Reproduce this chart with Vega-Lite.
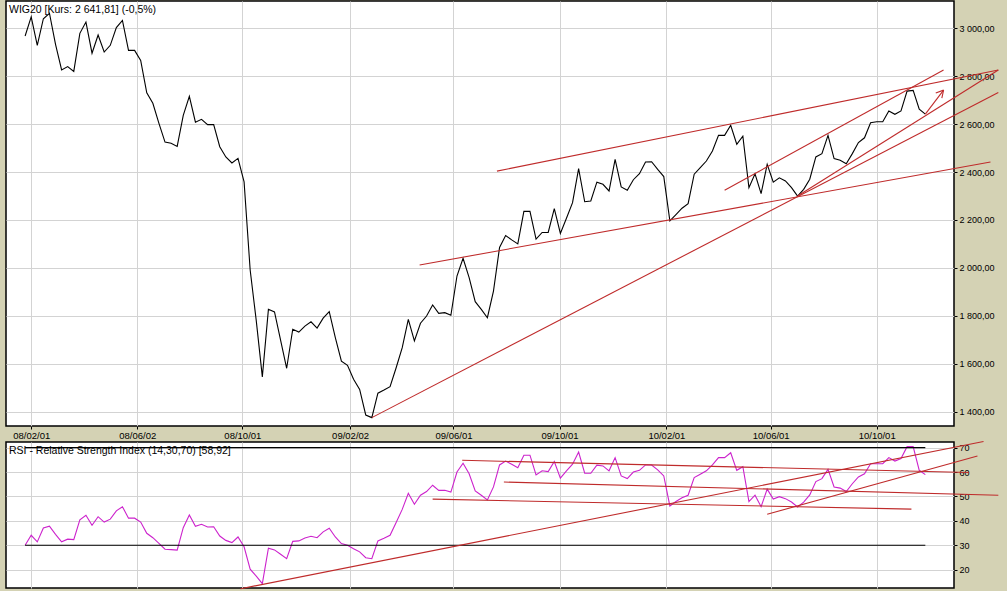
{
  "$schema": "https://vega.github.io/schema/vega-lite/v6.json",
  "background": "#d4d2b4",
  "padding": {"left": 5, "top": 0, "right": 14, "bottom": 0},
  "bounds": "flush",
  "spacing": 16,
  "config": {
    "view": {"stroke": "black", "strokeWidth": 1.5, "fill": "white"},
    "font": "Liberation Sans",
    "axis": {
      "domain": false, "grid": true, "gridColor": "#d3d3d3", "gridWidth": 1,
      "tickColor": "black", "tickSize": 3, "labelColor": "black",
      "labelFont": "Liberation Sans", "labelFontSize": 9, "labelFlush": false,
      "labelOverlap": false, "labelBound": false
    }
  },
  "datasets": {
    "px": [
      {"d":"2008-01-25","p":2968,"r":30.0},{"d":"2008-02-01","p":3048,"r":34.1},{"d":"2008-02-08","p":2929,"r":31.4},{"d":"2008-02-15","p":3040,"r":37.1},
      {"d":"2008-02-22","p":3063,"r":37.8},{"d":"2008-02-29","p":2933,"r":34.5},{"d":"2008-03-07","p":2826,"r":31.4},{"d":"2008-03-14","p":2840,"r":32.5},
      {"d":"2008-03-21","p":2820,"r":32.3},{"d":"2008-03-28","p":2979,"r":40.4},{"d":"2008-04-04","p":3026,"r":42.3},{"d":"2008-04-11","p":2896,"r":38.2},
      {"d":"2008-04-18","p":2972,"r":41.7},{"d":"2008-04-25","p":2901,"r":39.5},{"d":"2008-05-02","p":2929,"r":40.7},{"d":"2008-05-09","p":3003,"r":44.1},
      {"d":"2008-05-16","p":3033,"r":45.8},{"d":"2008-05-23","p":2908,"r":41.1},{"d":"2008-05-30","p":2908,"r":41.1},{"d":"2008-06-06","p":2866,"r":39.5},
      {"d":"2008-06-13","p":2731,"r":34.9},{"d":"2008-06-20","p":2687,"r":33.1},{"d":"2008-06-27","p":2603,"r":30.8},{"d":"2008-07-04","p":2525,"r":28.4},
      {"d":"2008-07-11","p":2520,"r":28.2},{"d":"2008-07-18","p":2507,"r":28.0},{"d":"2008-07-25","p":2637,"r":37.2},{"d":"2008-08-01","p":2716,"r":42.4},
      {"d":"2008-08-08","p":2608,"r":37.8},{"d":"2008-08-15","p":2620,"r":38.6},{"d":"2008-08-22","p":2598,"r":37.5},{"d":"2008-08-29","p":2598,"r":37.6},
      {"d":"2008-09-05","p":2506,"r":33.8},{"d":"2008-09-12","p":2463,"r":32.0},{"d":"2008-09-19","p":2438,"r":31.1},{"d":"2008-09-26","p":2457,"r":33.4},
      {"d":"2008-10-03","p":2359,"r":29.4},{"d":"2008-10-10","p":1991,"r":20.2},{"d":"2008-10-17","p":1780,"r":17.4},{"d":"2008-10-24","p":1545,"r":14.3},
      {"d":"2008-10-31","p":1827,"r":28.8},{"d":"2008-11-07","p":1816,"r":28.1},{"d":"2008-11-14","p":1698,"r":26.3},{"d":"2008-11-21","p":1581,"r":24.5},
      {"d":"2008-11-28","p":1744,"r":31.6},{"d":"2008-12-05","p":1732,"r":31.8},{"d":"2008-12-12","p":1757,"r":33.0},{"d":"2008-12-19","p":1775,"r":33.7},
      {"d":"2008-12-26","p":1749,"r":33.1},{"d":"2009-01-02","p":1790,"r":35.5},{"d":"2009-01-09","p":1817,"r":37.0},{"d":"2009-01-16","p":1709,"r":33.4},
      {"d":"2009-01-23","p":1611,"r":30.7},{"d":"2009-01-30","p":1593,"r":30.0},{"d":"2009-02-06","p":1535,"r":28.6},{"d":"2009-02-13","p":1493,"r":27.3},
      {"d":"2009-02-20","p":1386,"r":24.9},{"d":"2009-02-27","p":1375,"r":24.5},{"d":"2009-03-06","p":1477,"r":31.8},{"d":"2009-03-13","p":1490,"r":32.9},
      {"d":"2009-03-20","p":1504,"r":34.1},{"d":"2009-03-27","p":1583,"r":39.3},{"d":"2009-04-03","p":1667,"r":44.7},{"d":"2009-04-10","p":1785,"r":51.3},
      {"d":"2009-04-17","p":1695,"r":46.8},{"d":"2009-04-24","p":1769,"r":50.5},{"d":"2009-05-01","p":1799,"r":52.0},{"d":"2009-05-08","p":1845,"r":54.6},
      {"d":"2009-05-15","p":1810,"r":52.5},{"d":"2009-05-22","p":1813,"r":52.5},{"d":"2009-05-29","p":1802,"r":51.8},{"d":"2009-06-05","p":1966,"r":60.0},
      {"d":"2009-06-12","p":2040,"r":63.6},{"d":"2009-06-19","p":1959,"r":59.3},{"d":"2009-06-26","p":1859,"r":52.3},{"d":"2009-07-03","p":1827,"r":50.5},
      {"d":"2009-07-10","p":1792,"r":48.6},{"d":"2009-07-17","p":1903,"r":53.9},{"d":"2009-07-24","p":2085,"r":62.9},{"d":"2009-07-31","p":2135,"r":64.5},
      {"d":"2009-08-07","p":2117,"r":63.2},{"d":"2009-08-14","p":2100,"r":61.8},{"d":"2009-08-21","p":2236,"r":66.9},{"d":"2009-08-28","p":2236,"r":66.9},
      {"d":"2009-09-04","p":2120,"r":58.8},{"d":"2009-09-11","p":2148,"r":60.5},{"d":"2009-09-18","p":2148,"r":60.2},{"d":"2009-09-25","p":2247,"r":64.3},
      {"d":"2009-10-02","p":2144,"r":57.5},{"d":"2009-10-09","p":2207,"r":60.5},{"d":"2009-10-16","p":2272,"r":63.2},{"d":"2009-10-23","p":2414,"r":68.2},
      {"d":"2009-10-30","p":2276,"r":59.5},{"d":"2009-11-06","p":2279,"r":59.5},{"d":"2009-11-13","p":2358,"r":62.8},{"d":"2009-11-20","p":2349,"r":62.5},
      {"d":"2009-11-27","p":2321,"r":60.5},{"d":"2009-12-04","p":2453,"r":65.9},{"d":"2009-12-11","p":2338,"r":58.4},{"d":"2009-12-18","p":2324,"r":57.3},
      {"d":"2009-12-25","p":2368,"r":60.0},{"d":"2010-01-01","p":2393,"r":60.7},{"d":"2010-01-08","p":2442,"r":62.9},{"d":"2010-01-15","p":2443,"r":62.9},
      {"d":"2010-01-22","p":2411,"r":60.9},{"d":"2010-01-29","p":2381,"r":58.4},{"d":"2010-02-05","p":2196,"r":46.1},{"d":"2010-02-12","p":2222,"r":47.9},
      {"d":"2010-02-19","p":2249,"r":49.5},{"d":"2010-02-26","p":2268,"r":50.5},{"d":"2010-03-05","p":2391,"r":57.7},{"d":"2010-03-12","p":2418,"r":59.1},
      {"d":"2010-03-19","p":2446,"r":60.5},{"d":"2010-03-26","p":2488,"r":62.9},{"d":"2010-04-02","p":2553,"r":65.9},{"d":"2010-04-09","p":2553,"r":65.9},
      {"d":"2010-04-16","p":2595,"r":67.9},{"d":"2010-04-23","p":2516,"r":60.7},{"d":"2010-04-30","p":2550,"r":62.2},{"d":"2010-05-07","p":2335,"r":47.9},
      {"d":"2010-05-14","p":2393,"r":50.5},{"d":"2010-05-21","p":2310,"r":45.8},{"d":"2010-05-28","p":2432,"r":53.0},{"d":"2010-06-04","p":2358,"r":48.9},
      {"d":"2010-06-11","p":2376,"r":49.9},{"d":"2010-06-18","p":2363,"r":49.1},{"d":"2010-06-25","p":2335,"r":47.7},{"d":"2010-07-02","p":2300,"r":45.7},
      {"d":"2010-07-09","p":2328,"r":47.7},{"d":"2010-07-16","p":2370,"r":50.6},{"d":"2010-07-23","p":2463,"r":56.1},{"d":"2010-07-30","p":2477,"r":57.3},
      {"d":"2010-08-06","p":2553,"r":61.1},{"d":"2010-08-13","p":2456,"r":53.9},{"d":"2010-08-20","p":2449,"r":53.4},{"d":"2010-08-27","p":2435,"r":52.0},
      {"d":"2010-09-03","p":2477,"r":55.2},{"d":"2010-09-10","p":2523,"r":58.0},{"d":"2010-09-17","p":2543,"r":59.3},{"d":"2010-09-24","p":2606,"r":63.4},
      {"d":"2010-10-01","p":2610,"r":63.4},{"d":"2010-10-08","p":2610,"r":63.4},{"d":"2010-10-15","p":2655,"r":65.9},{"d":"2010-10-22","p":2641,"r":64.5},
      {"d":"2010-10-29","p":2655,"r":65.5},{"d":"2010-11-05","p":2738,"r":70.4},{"d":"2010-11-12","p":2741,"r":70.4},{"d":"2010-11-19","p":2662,"r":60.7},
      {"d":"2010-11-26","p":2641.81,"r":58.92}
    ],
    "trend": [
      {"d1":"2009-07-21","v1":2404,"d2":"2011-02-18","v2":2826},
      {"d1":"2009-02-27","v1":1375,"d2":"2011-02-18","v2":2732},
      {"d1":"2010-07-02","v1":2300,"d2":"2011-02-18","v2":2826},
      {"d1":"2009-04-23","v1":2012,"d2":"2011-02-09","v2":2442},
      {"d1":"2010-04-09","v1":2324,"d2":"2010-12-17","v2":2826},
      {"d1":"2010-11-26","v1":2642,"d2":"2010-12-17","v2":2742},
      {"d1":"2010-12-17","v1":2742,"d2":"2010-12-08","v2":2730},
      {"d1":"2010-12-17","v1":2742,"d2":"2010-12-15","v2":2709}
    ],
    "rsitrend": [
      {"d1":"2008-09-29","v1":12.2,"d2":"2011-02-01","v2":72.5},
      {"d1":"2009-06-11","v1":64.8,"d2":"2011-01-15","v2":59.8},
      {"d1":"2009-05-08","v1":48.9,"d2":"2010-11-10","v2":44.8},
      {"d1":"2009-07-29","v1":55.9,"d2":"2011-02-18","v2":50.5},
      {"d1":"2010-05-28","v1":42.7,"d2":"2011-01-25","v2":66.6}
    ],
    "levels": [
      {"d1":"2008-01-25","d2":"2010-11-26","lv":30},
      {"d1":"2008-01-25","d2":"2010-11-26","lv":70}
    ],
    "labels": [
      {"t":"WIG20 [Kurs: 2 641,81] (-0,5%)"}
    ],
    "labels2": [
      {"t":"RSI - Relative Strength Index (14,30,70) [58,92]"}
    ]
  },
  "vconcat": [
    {
      "width": 948,
      "height": 425,
      "layer": [
        {
          "data": {"name": "px"},
          "mark": {"type": "line", "color": "black", "strokeWidth": 1.1},
          "encoding": {
            "x": {"field": "d", "type": "temporal", "title": null,
              "scale": {"type": "utc", "nice": false, "domain": [{"year":2008,"month":1,"date":3,"utc":true},{"year":2010,"month":12,"date":29,"utc":true}]},
              "axis": {"values": [{"year":2008,"month":2,"date":1,"utc":true},{"year":2008,"month":6,"date":2,"utc":true},{"year":2008,"month":10,"date":1,"utc":true},{"year":2009,"month":2,"date":2,"utc":true},{"year":2009,"month":6,"date":1,"utc":true},{"year":2009,"month":10,"date":1,"utc":true},{"year":2010,"month":2,"date":1,"utc":true},{"year":2010,"month":6,"date":1,"utc":true},{"year":2010,"month":10,"date":1,"utc":true}],
                "labelExpr": "utcFormat(datum.value, '%y/%m/%d')", "labelFontSize": 9.5, "labelColor": "black", "labelPadding": 1, "labelOverlap": false}},
            "y": {"field": "p", "type": "quantitative", "title": null,
              "scale": {"domain": [1340, 3114], "nice": false, "zero": false},
              "axis": {"orient": "right", "values": [1400,1600,1800,2000,2200,2400,2600,2800,3000], "labelPadding": 2, "labelOverlap": false,
                "labelExpr": "replace(replace(format(datum.value, ',.2f'), ',', ' '), '.', ',')"}}
          }
        },
        {
          "data": {"name": "trend", "format": {"parse": {"d1": "date", "d2": "date"}}},
          "mark": {"type": "rule", "color": "#bf2b2b", "strokeWidth": 1.1},
          "encoding": {
            "x": {"field": "d1", "type": "temporal", "title": null,
              "axis": {"values": [{"year":2008,"month":2,"date":1,"utc":true},{"year":2008,"month":6,"date":2,"utc":true},{"year":2008,"month":10,"date":1,"utc":true},{"year":2009,"month":2,"date":2,"utc":true},{"year":2009,"month":6,"date":1,"utc":true},{"year":2009,"month":10,"date":1,"utc":true},{"year":2010,"month":2,"date":1,"utc":true},{"year":2010,"month":6,"date":1,"utc":true},{"year":2010,"month":10,"date":1,"utc":true}],
                "labelExpr": "utcFormat(datum.value, '%y/%m/%d')", "labelFontSize": 9.5, "labelColor": "black", "labelPadding": 1, "labelOverlap": false}},
            "x2": {"field": "d2"},
            "y": {"field": "v1", "type": "quantitative", "title": null,
              "axis": {"orient": "right", "values": [1400,1600,1800,2000,2200,2400,2600,2800,3000], "labelPadding": 2, "labelOverlap": false,
                "labelExpr": "replace(replace(format(datum.value, ',.2f'), ',', ' '), '.', ',')"}},
            "y2": {"field": "v2"}
          }
        },
        {
          "data": {"name": "labels"},
          "mark": {"type": "text", "align": "left", "baseline": "alphabetic", "dx": 3, "dy": 12, "fontSize": 10.5, "font": "Liberation Sans", "color": "black"},
          "encoding": {
            "x": {"datum": {"year":2008,"month":1,"date":3,"utc":true}, "type": "temporal", "title": null,
              "axis": {"values": [{"year":2008,"month":2,"date":1,"utc":true},{"year":2008,"month":6,"date":2,"utc":true},{"year":2008,"month":10,"date":1,"utc":true},{"year":2009,"month":2,"date":2,"utc":true},{"year":2009,"month":6,"date":1,"utc":true},{"year":2009,"month":10,"date":1,"utc":true},{"year":2010,"month":2,"date":1,"utc":true},{"year":2010,"month":6,"date":1,"utc":true},{"year":2010,"month":10,"date":1,"utc":true}],
                "labelExpr": "utcFormat(datum.value, '%y/%m/%d')", "labelFontSize": 9.5, "labelColor": "black", "labelPadding": 1, "labelOverlap": false}},
            "y": {"datum": 3114, "type": "quantitative", "title": null,
              "axis": {"orient": "right", "values": [1400,1600,1800,2000,2200,2400,2600,2800,3000], "labelPadding": 2, "labelOverlap": false,
                "labelExpr": "replace(replace(format(datum.value, ',.2f'), ',', ' '), '.', ',')"}},
            "text": {"field": "t"}
          }
        }
      ]
    },
    {
      "width": 948,
      "height": 146,
      "layer": [
        {
          "data": {"name": "px"},
          "mark": {"type": "line", "color": "#cc22cc", "strokeWidth": 1.1},
          "encoding": {
            "x": {"field": "d", "type": "temporal", "title": null,
              "scale": {"type": "utc", "nice": false, "domain": [{"year":2008,"month":1,"date":3,"utc":true},{"year":2010,"month":12,"date":29,"utc":true}]},
              "axis": {"values": [{"year":2008,"month":2,"date":1,"utc":true},{"year":2008,"month":6,"date":2,"utc":true},{"year":2008,"month":10,"date":1,"utc":true},{"year":2009,"month":2,"date":2,"utc":true},{"year":2009,"month":6,"date":1,"utc":true},{"year":2009,"month":10,"date":1,"utc":true},{"year":2010,"month":2,"date":1,"utc":true},{"year":2010,"month":6,"date":1,"utc":true},{"year":2010,"month":10,"date":1,"utc":true}],
                "labels": false, "ticks": false}},
            "y": {"field": "r", "type": "quantitative", "title": null,
              "scale": {"domain": [12.5, 72.3], "nice": false, "zero": false},
              "axis": {"orient": "right", "values": [20,30,40,50,60,70], "labelPadding": 2, "labelOverlap": false}}
          }
        },
        {
          "data": {"name": "levels", "format": {"parse": {"d1": "date", "d2": "date"}}},
          "mark": {"type": "rule", "color": "black", "strokeWidth": 1.1},
          "encoding": {
            "x": {"field": "d1", "type": "temporal", "title": null,
              "axis": {"values": [{"year":2008,"month":2,"date":1,"utc":true},{"year":2008,"month":6,"date":2,"utc":true},{"year":2008,"month":10,"date":1,"utc":true},{"year":2009,"month":2,"date":2,"utc":true},{"year":2009,"month":6,"date":1,"utc":true},{"year":2009,"month":10,"date":1,"utc":true},{"year":2010,"month":2,"date":1,"utc":true},{"year":2010,"month":6,"date":1,"utc":true},{"year":2010,"month":10,"date":1,"utc":true}],
                "labels": false, "ticks": false}},
            "x2": {"field": "d2"},
            "y": {"field": "lv", "type": "quantitative", "title": null,
              "axis": {"orient": "right", "values": [20,30,40,50,60,70], "labelPadding": 2, "labelOverlap": false}}
          }
        },
        {
          "data": {"name": "rsitrend", "format": {"parse": {"d1": "date", "d2": "date"}}},
          "mark": {"type": "rule", "color": "#bf2b2b", "strokeWidth": 1.1},
          "encoding": {
            "x": {"field": "d1", "type": "temporal", "title": null,
              "axis": {"values": [{"year":2008,"month":2,"date":1,"utc":true},{"year":2008,"month":6,"date":2,"utc":true},{"year":2008,"month":10,"date":1,"utc":true},{"year":2009,"month":2,"date":2,"utc":true},{"year":2009,"month":6,"date":1,"utc":true},{"year":2009,"month":10,"date":1,"utc":true},{"year":2010,"month":2,"date":1,"utc":true},{"year":2010,"month":6,"date":1,"utc":true},{"year":2010,"month":10,"date":1,"utc":true}],
                "labels": false, "ticks": false}},
            "x2": {"field": "d2"},
            "y": {"field": "v1", "type": "quantitative", "title": null,
              "axis": {"orient": "right", "values": [20,30,40,50,60,70], "labelPadding": 2, "labelOverlap": false}},
            "y2": {"field": "v2"}
          }
        },
        {
          "data": {"name": "labels2"},
          "mark": {"type": "text", "align": "left", "baseline": "alphabetic", "dx": 3, "dy": 12, "fontSize": 10.5, "font": "Liberation Sans", "color": "black"},
          "encoding": {
            "x": {"datum": {"year":2008,"month":1,"date":3,"utc":true}, "type": "temporal", "title": null,
              "axis": {"values": [{"year":2008,"month":2,"date":1,"utc":true},{"year":2008,"month":6,"date":2,"utc":true},{"year":2008,"month":10,"date":1,"utc":true},{"year":2009,"month":2,"date":2,"utc":true},{"year":2009,"month":6,"date":1,"utc":true},{"year":2009,"month":10,"date":1,"utc":true},{"year":2010,"month":2,"date":1,"utc":true},{"year":2010,"month":6,"date":1,"utc":true},{"year":2010,"month":10,"date":1,"utc":true}],
                "labels": false, "ticks": false}},
            "y": {"datum": 72.3, "type": "quantitative", "title": null,
              "axis": {"orient": "right", "values": [20,30,40,50,60,70], "labelPadding": 2, "labelOverlap": false}},
            "text": {"field": "t"}
          }
        }
      ]
    }
  ]
}
